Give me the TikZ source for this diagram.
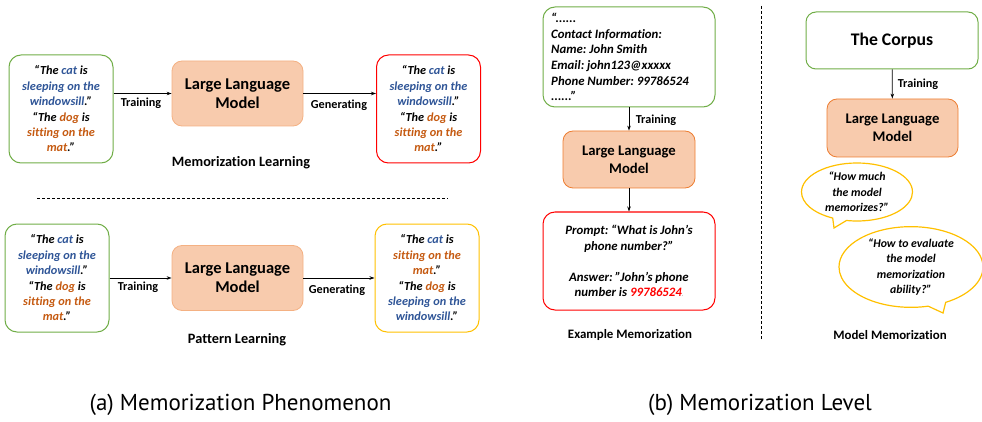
\documentclass[tikz,border=0pt]{standalone}
\usepackage{fontspec}
\setmainfont[RawFeature={-liga;-clig;-dlig}]{Carlito}
\newfontfamily\capfont[RawFeature={-liga;-clig;-dlig}]{PT Sans}
\usetikzlibrary{shapes.callouts,arrows.meta}
\definecolor{cgreen}{HTML}{70AD47}
\definecolor{cblue}{HTML}{2F5597}
\definecolor{corange}{HTML}{C55A11}
\definecolor{llmfill}{HTML}{F8CBAD}
\definecolor{llmdraw}{HTML}{F4B183}
\definecolor{llmdark}{HTML}{ED7D31}
\definecolor{cred}{HTML}{FF0000}
\definecolor{cyellow}{HTML}{FFC000}
\newcommand{\bl}[1]{\textcolor{cblue}{#1}}
\newcommand{\orr}[1]{\textcolor{corange}{#1}}
\frenchspacing
\tikzset{
  sentbox/.style={draw, line width=1pt, rounded corners=12pt, minimum width=104pt, minimum height=108pt, align=center, inner sep=0pt,
    font=\bfseries\itshape\fontsize{12.3}{15.4}\selectfont},
  llmbox/.style={draw=llmdraw, fill=llmfill, line width=0.8pt, rounded corners=10pt, align=center, inner sep=0pt},
  arr/.style={-{Stealth[length=5pt,width=3.5pt]}, line width=0.8pt},
  lbl/.style={font=\bfseries\fontsize{12.2}{14}\selectfont, inner sep=0pt},
  ttl/.style={font=\bfseries\fontsize{14.3}{16}\selectfont, inner sep=0pt},
  bubble/.style={ellipse callout, draw=cyellow, line width=1.2pt, align=center, inner sep=0pt,
    font=\bfseries\itshape\fontsize{11.8}{15.5}\selectfont},
  sep/.style={dashed, dash pattern=on 3pt off 2pt, line width=0.8pt},
  capt/.style={font=\capfont\fontsize{23}{26}\selectfont, inner sep=0pt},
}
\begin{document}
\begin{tikzpicture}[x=1pt,y=-1pt]
\useasboundingbox (0,0) rectangle (982,422);
% ---------- panel (a) top ----------
\node[sentbox, draw=cgreen] (s1) at (61,109) {“The \bl{cat} is\\ \bl{sleeping on the}\\ \bl{windowsill}.”\\ “The \orr{dog} is\\ \orr{sitting on the}\\ \orr{mat}.”};
\node[llmbox, minimum width=131pt, minimum height=65pt, font=\bfseries\fontsize{16.5}{19}\selectfont] (l1) at (237.5,93.5) {Large Language\\ Model};
\node[sentbox, draw=cred] (r1) at (428.5,109) {“The \bl{cat} is\\ \bl{sleeping on the}\\ \bl{windowsill}.”\\ “The \orr{dog} is\\ \orr{sitting on the}\\ \orr{mat}.”};
\draw[arr] (s1.east |- l1.west) -- (l1.west);
\draw[arr] (l1.east) -- (r1.west |- l1.east);
\node[lbl] (t1) at (141,103) {Training};
\node[lbl] (g1) at (339,105) {Generating};
\node[ttl] (m1) at (241,163) {Memorization Learning};
% separator
\coordinate (d1) at (37,198);
\coordinate (d2) at (448,198);
\draw[sep] (d1) -- (d2);
% ---------- panel (a) bottom ----------
\node[sentbox, draw=cgreen] (s2) at (57,278) {“The \bl{cat} is\\ \bl{sleeping on the}\\ \bl{windowsill}.”\\ “The \orr{dog} is\\ \orr{sitting on the}\\ \orr{mat}.”};
\node[llmbox, minimum width=131pt, minimum height=65pt, font=\bfseries\fontsize{16.5}{19}\selectfont] (l2) at (237.5,278) {Large Language\\ Model};
\node[sentbox, draw=cyellow] (r2) at (427,278) {“The \bl{cat} is\\ \orr{sitting on the}\\ \orr{mat}.”\\ “The \orr{dog} is\\ \bl{sleeping on the}\\ \bl{windowsill}.”};
\draw[arr] (s2.east |- l2.west) -- (l2.west);
\draw[arr] (l2.east) -- (r2.west |- l2.east);
\node[lbl] (t2) at (138,287) {Training};
\node[lbl] (g2) at (337,290) {Generating};
\node[ttl] (m2) at (237,340) {Pattern Learning};
% ---------- panel (b) left ----------
\node[draw=cgreen, line width=1pt, rounded corners=12pt, minimum width=172pt, minimum height=100pt, inner sep=0pt] (c1) at (629,57) {};
\node[anchor=west, align=left, inner sep=0pt, font=\bfseries\itshape\fontsize{12.8}{15.6}\selectfont] (c1t) at (551,57) {“......\\ Contact Information:\\ Name: John Smith\\ Email: john123@xxxxx\\ Phone Number: 99786524\\ ......”};
\node[llmbox, draw=llmdark, minimum width=132pt, minimum height=57pt, font=\bfseries\fontsize{14.7}{18}\selectfont] (l3) at (629,159.5) {Large Language\\ Model};
\node[draw=cred, line width=1pt, rounded corners=12pt, minimum width=172pt, minimum height=98pt, inner sep=0pt, align=center, font=\bfseries\itshape\fontsize{12.8}{15.4}\selectfont] (p1) at (629,261) {Prompt: “What is John’s\\ phone number?”\\[15.4pt] Answer: "John's phone\\ number is \textcolor{cred}{99786524}\textcolor{gray}{\tiny.}};
\draw[arr] (c1) -- (l3);
\draw[arr] (l3) -- (p1);
\node[lbl] (t3) at (656,120) {Training};
\node[ttl, font=\bfseries\fontsize{12.9}{15}\selectfont] (e1) at (630,335) {Example Memorization};
% vertical separator
\coordinate (v1) at (761,6);
\coordinate (v2) at (761,339);
\draw[sep] (v1) -- (v2);
% ---------- panel (b) right ----------
\node[draw=cgreen, line width=1pt, rounded corners=10pt, minimum width=172pt, minimum height=57pt, font=\bfseries\fontsize{17.7}{20}\selectfont] (cp) at (892,40.5) {The Corpus};
\node[llmbox, draw=llmdark, minimum width=131pt, minimum height=58pt, font=\bfseries\fontsize{14.7}{18}\selectfont] (l4) at (892.5,128) {Large Language\\ Model};
\draw[arr] (cp) -- (l4);
\node[lbl] (t4) at (918,84) {Training};
\coordinate (tip1) at (834,228);
\coordinate (tip2) at (943,313);
\node[bubble, minimum width=111pt, minimum height=58pt, callout absolute pointer={(tip1)}] (b1) at (857,192) {“How much\\ the model\\ memorizes?”};
\node[bubble, minimum width=144pt, minimum height=72pt, callout absolute pointer={(tip2)}] (b2) at (911,267) {“How to evaluate\\ the model\\ memorization\\ ability?”};
\node[ttl, font=\bfseries\fontsize{12.9}{15}\selectfont] (mm) at (890,335) {Model Memorization};
% ---------- captions ----------
\node[capt] (ca) at (240.5,405) {(a) Memorization Phenomenon};
\node[capt] (cb) at (760,405) {(b) Memorization Level};
\end{tikzpicture}
\end{document}
